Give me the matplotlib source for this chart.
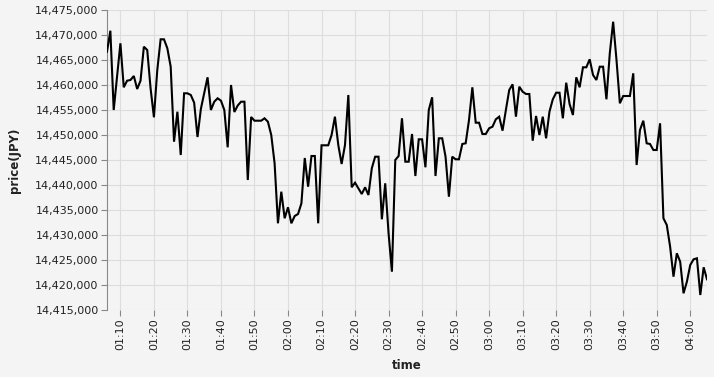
import matplotlib
matplotlib.use("Agg")
import matplotlib.pyplot as plt
import matplotlib.dates as mdates
import numpy as np
import pandas as pd

start_time = "2018-01-01 01:06"
prices = [
    14466660, 14470860, 14455000, 14461600, 14468340, 14459540, 14460860, 14461000, 14461800, 14459200,
    14460860, 14467660, 14467000, 14459340, 14453540, 14463000, 14469140, 14469140, 14467340, 14463660,
    14448660, 14454660, 14446000, 14458340, 14458340, 14458000, 14456460, 14449600, 14455200, 14458400,
    14461540, 14455000, 14456660, 14457340, 14456860, 14455000, 14447540, 14460000, 14454600, 14455900,
    14456660, 14456660, 14441000, 14453600, 14452860, 14452860, 14452860, 14453340, 14452660, 14450000,
    14444340, 14432340, 14438660, 14433340, 14435540, 14432340, 14433800, 14434200, 14436340, 14445400,
    14439660, 14445800, 14445800, 14432340, 14447940, 14447940, 14447940, 14450000, 14453660, 14448000,
    14444200, 14448000, 14458000, 14439540, 14440460, 14439340, 14438200, 14439540, 14438000, 14443340,
    14445660, 14445660, 14433140, 14440340, 14430340, 14422660, 14445000, 14445800, 14453340, 14444660,
    14444660, 14450200, 14441800, 14449140, 14449140, 14443540, 14455000, 14457540, 14441800, 14449340,
    14449340, 14445660, 14437660, 14445660, 14445140, 14445140, 14448200, 14448340, 14453000, 14459540,
    14452460, 14452460, 14450200, 14450200, 14451340, 14451660, 14453140, 14453660, 14450860, 14455000,
    14459000, 14460140, 14453660, 14459660, 14458660, 14458200, 14458200, 14448860, 14453800, 14450000,
    14453660, 14449340, 14454660, 14457140, 14458460, 14458460, 14453340, 14460460, 14456200, 14454000,
    14461540, 14459540, 14463540, 14463540, 14465140, 14462000, 14461000, 14463660, 14463660, 14457140,
    14466340, 14472660, 14465000, 14456340, 14457800, 14457800, 14457800, 14462340, 14444000, 14451000,
    14452860, 14448340, 14448200, 14447000, 14447000, 14452340, 14433340, 14432000, 14427660, 14421660,
    14426340, 14424660, 14418340, 14420660, 14424000, 14425140, 14425340, 14418000, 14423540, 14421140,
]
times = pd.date_range(start_time, periods=len(prices), freq="min")

y_min, y_max, y_step = 14415000, 14475000, 5000

BG = "#f4f4f4"
GRID = "#dddddd"
AXC = "#888888"

W, H = 714, 377
fig = plt.figure(figsize=(W / 100, H / 100), dpi=100, facecolor=BG)
ax = fig.add_axes([107 / W, 1 - 310 / H, 600 / W, 300 / H])
ax.set_facecolor(BG)

ax.plot(times, prices, color="black", lw=1.5, solid_joinstyle="miter", zorder=3)

ax.set_xlim(times[0], times[-1])
ax.set_ylim(y_min, y_max)
ax.set_yticks(np.arange(y_min, y_max + 1, y_step))
ax.yaxis.set_major_formatter(matplotlib.ticker.FuncFormatter(lambda v, p: f"{int(v):,}"))
ax.xaxis.set_major_locator(mdates.MinuteLocator(byminute=range(0, 60, 10)))
ax.xaxis.set_major_formatter(mdates.DateFormatter("%H:%M"))

ax.grid(True, color=GRID, lw=0.8, zorder=0)
ax.set_axisbelow(True)
for s in ["top", "right", "bottom"]:
    ax.spines[s].set_visible(False)
ax.spines["left"].set_color(AXC)
ax.spines["left"].set_linewidth(0.8)

ax.tick_params(axis="both", colors=AXC, length=4, width=0.8, labelsize=8, labelcolor="#222222", pad=2)
plt.setp(ax.get_xticklabels(), rotation=90)

ax.set_xlabel("time", fontsize=8.5, fontweight="bold", labelpad=6, color="#222222")
ax.set_ylabel("price(JPY)", fontsize=8.5, fontweight="bold", labelpad=10, color="#222222")

fig.savefig("out.png", dpi=100, facecolor=BG)
